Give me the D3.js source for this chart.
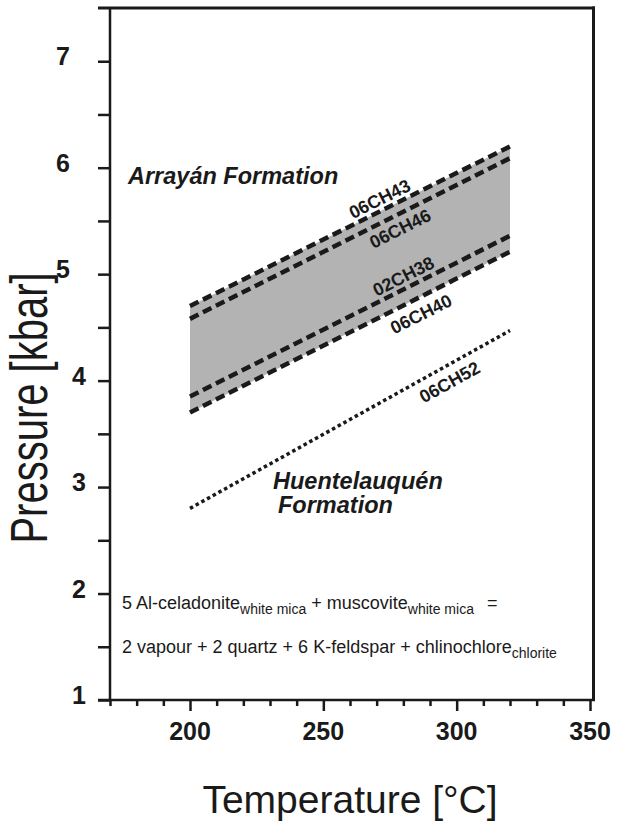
<!DOCTYPE html>
<html>
<head>
<meta charset="utf-8">
<script src="https://cdn.jsdelivr.net/npm/d3@7"></script>
<style>
  html, body { margin: 0; padding: 0; background: #fff; }
  svg { display: block; font-family: "Liberation Sans", Arial, sans-serif; }
</style>
</head>
<body>
<svg id="chart" width="619" height="823"></svg>
<script>
// Temperature range of each isopleth (°C)
const tRange = [200, 320];

// Pressure (kbar) at each end of the isopleths, per sample
const samples = ["06CH43", "06CH46", "02CH38", "06CH40", "06CH52"];
const pAt200 = [4.70, 4.58, 3.85, 3.70, 2.80];
const pAt320 = [6.20, 6.09, 5.36, 5.21, 4.47];
const lineKind = ["dash", "dash", "dash", "dash", "dot"];

// Shaded field between the outer isopleths of the Arrayán samples
const bandUpper = "06CH43";
const bandLower = "06CH40";

// Axis ticks
const xMajor = [200, 250, 300, 350];
const yMajor = [1, 2, 3, 4, 5, 6, 7];

const svg = d3.select("#chart");
const mL = 110, mR = 590, mT = 8, mB = 700;

const x = d3.scaleLinear().domain([170, 350]).range([mL, mR]);
const y = d3.scaleLinear().domain([1, 7.5]).range([mB, mT]);

const ink = "#1a1a1a";

// Isopleth records
const lines = samples.map((s, i) => ({
  name: s,
  kind: lineKind[i],
  pts: [[tRange[0], pAt200[i]], [tRange[1], pAt320[i]]]
}));
const byName = Object.fromEntries(lines.map(d => [d.name, d]));

// Shaded band
const up = byName[bandUpper].pts, lo = byName[bandLower].pts;
svg.append("path")
  .attr("d", d3.line().x(d => x(d[0])).y(d => y(d[1]))([up[0], up[1], lo[1], lo[0]]) + "Z")
  .attr("fill", "#b3b3b3");

// Isopleths
const line = d3.line().x(d => x(d[0])).y(d => y(d[1]));
svg.append("g").selectAll("path").data(lines).join("path")
  .attr("d", d => line(d.pts))
  .attr("fill", "none")
  .attr("stroke", ink)
  .attr("stroke-width", d => d.kind === "dash" ? 4.5 : 3.5)
  .attr("stroke-dasharray", d => d.kind === "dash" ? "9.5,5" : "3.5,3");

// Sample labels along the lines: T of the anchor point, perpendicular offset (px)
const labelT = { "06CH43": 273, "06CH46": 276.5, "02CH38": 282, "06CH40": 284, "06CH52": 294.5 };
const labelOff = { "06CH43": -11, "06CH46": 14, "02CH38": -11.5, "06CH40": 16, "06CH52": 16 };
lines.forEach(d => {
  const [a, b] = d.pts;
  const t = labelT[d.name];
  const p = a[1] + (b[1] - a[1]) * (t - a[0]) / (b[0] - a[0]);
  const ang = Math.atan2(y(b[1]) - y(a[1]), x(b[0]) - x(a[0])) * 180 / Math.PI;
  svg.append("text")
    .attr("transform", `translate(${x(t)},${y(p)}) rotate(${ang}) translate(0,${labelOff[d.name]})`)
    .attr("text-anchor", "middle")
    .attr("dominant-baseline", "central")
    .attr("font-size", 18).attr("font-weight", "bold").attr("fill", ink)
    .text(d.name);
});

// Frame: top and right borders
svg.append("line").attr("x1", 98).attr("x2", mR + 5).attr("y1", mT).attr("y2", mT)
  .attr("stroke", ink).attr("stroke-width", 3);
svg.append("line").attr("x1", mR + 3.5).attr("x2", mR + 3.5).attr("y1", mT - 1.5).attr("y2", mB)
  .attr("stroke", ink).attr("stroke-width", 3);

// X axis (ticks drawn downwards from the frame)
const gx = svg.append("g").attr("transform", `translate(0,${mB})`);
gx.call(d3.axisBottom(x).tickValues(d3.range(170, 351, 10)).tickSize(6).tickFormat(""));
gx.selectAll(".tick line").filter(d => xMajor.includes(d)).attr("y2", 11);
gx.select(".domain").attr("d", `M${mL - 12},0H${mR + 5}`);
gx.selectAll("line, path").attr("stroke", ink).attr("stroke-width", 2.5);
xMajor.forEach(v => {
  gx.append("text").attr("x", x(v)).attr("y", 40).attr("text-anchor", "middle")
    .attr("font-size", 25).attr("font-weight", "bold").attr("fill", ink).text(v);
});

// Y axis
const gy = svg.append("g").attr("transform", `translate(${mL},0)`);
gy.call(d3.axisLeft(y).tickValues(d3.range(1, 7.01, 0.5)).tickSize(12).tickFormat(""));
gy.select(".domain").attr("d", `M0,${mT}V${mB}`);
gy.selectAll("line, path").attr("stroke", ink).attr("stroke-width", 2.5);
yMajor.forEach(v => {
  gy.append("text").attr("x", v >= 5 ? -40 : -24).attr("y", y(v) + 4).attr("text-anchor", "end")
    .attr("font-size", 25).attr("font-weight", "bold").attr("fill", ink).text(v);
});

// Axis titles
svg.append("text").attr("x", 350).attr("y", 813).attr("text-anchor", "middle")
  .attr("font-size", 39).attr("fill", ink).text("Temperature [°C]");
svg.append("text").attr("transform", "translate(47,408) rotate(-90) scale(1,1.3)").attr("text-anchor", "middle")
  .attr("font-size", 40).attr("fill", ink).text("Pressure [kbar]");

// Formation names
const fmt = sel => sel.attr("font-size", 23.5).attr("font-weight", "bold")
  .attr("font-style", "italic").attr("fill", ink);
svg.append("text").attr("x", 128).attr("y", 184).call(fmt).text("Arrayán Formation");
svg.append("text").attr("x", 273).attr("y", 489).call(fmt).text("Huentelauquén");
svg.append("text").attr("x", 278).attr("y", 513).call(fmt).text("Formation");

// Reaction
const rx = svg.append("text").attr("x", 122).attr("y", 609).attr("font-size", 18).attr("fill", ink);
rx.append("tspan").text("5 Al-celadonite");
rx.append("tspan").attr("dy", 5).attr("font-size", 14).text("white mica");
rx.append("tspan").attr("dy", -5).text(" + muscovite");
rx.append("tspan").attr("dy", 5).attr("font-size", 14).text("white mica");
rx.append("tspan").attr("dy", -5).attr("dx", 8).text(" =");

const rx2 = svg.append("text").attr("x", 122).attr("y", 653).attr("font-size", 18).attr("fill", ink);
rx2.append("tspan").text("2 vapour + 2 quartz + 6 K-feldspar + chlinochlore");
rx2.append("tspan").attr("dy", 5).attr("font-size", 14).text("chlorite");
</script>
</body>
</html>
